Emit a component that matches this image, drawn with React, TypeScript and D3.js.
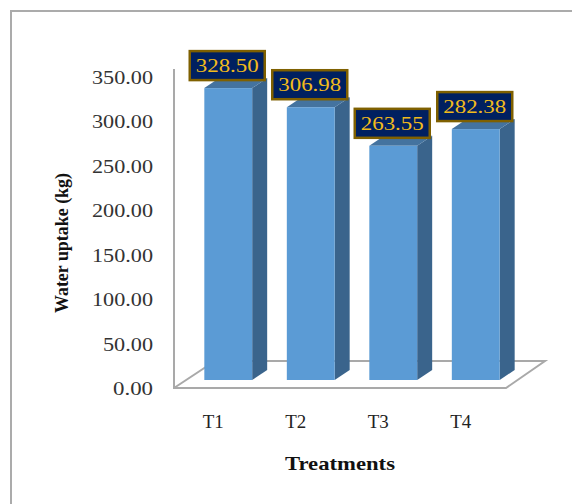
import React from "react";
import * as d3 from "d3";

const categories = ["T1", "T2", "T3", "T4"];
const values = [328.5, 306.98, 263.55, 282.38];
const ticks = [0, 50, 100, 150, 200, 250, 300, 350];
const yTitle = "Water uptake (kg)";
const xTitle = "Treatments";

const W = 572, H = 504;
const font = "'Liberation Serif', 'Times New Roman', serif";
const y = d3.scaleLinear().domain([0, 350]).range([380, 69]);
const x = d3.scaleBand().domain(categories).range([187, 517]).paddingInner(0.42).paddingOuter(0.21);
const depthX = 15, depthY = 10;
const front = 8;
const line = d3.line();
const stretch = "spacingAndGlyphs";

export default function App() {
  const bw = x.bandwidth();
  return (
    <svg width={W} height={H} viewBox={`0 0 ${W} ${H}`} style={{ position: "absolute", left: 0, top: 0, background: "#fff" }}>
      <path d={line([[11, 504], [11, 11], [572, 11]])!} fill="none" stroke="#ababab" strokeWidth={2} />
      <g fill="none" stroke="#a9a9a9" strokeWidth={2}>
        <path d={line([[174, y(350)], [174, y(0) + front], [506, y(0) + front], [545, y(0) - 19], [215, y(0) - 19], [174, y(0) + front]])!} />
      </g>
      {ticks.map((t) => (
        <text key={t} x={153} y={y(t) + front + 7} textAnchor="end" fontFamily={font} fontSize={19} textLength={t < 100 ? (t === 0 ? 40 : 50) : 61} lengthAdjust={stretch} fill="#333">
          {t.toFixed(2)}
        </text>
      ))}
      {categories.map((c, i) => {
        const x0 = x(c)!, x1 = x0 + bw, top = y(values[i]), base = y(0);
        return (
          <g key={c}>
            <path d={line([[x1, top], [x1 + depthX, top - depthY], [x1 + depthX, base - depthY], [x1, base]])! + "Z"} fill="#3a648c" />
            <path d={line([[x0, top], [x0 + depthX, top - depthY], [x1 + depthX, top - depthY], [x1, top]])! + "Z"} fill="#44739f" />
            <rect x={x0} y={top} width={bw} height={base - top} fill="#5b9bd5" />
          </g>
        );
      })}
      {categories.map((c, i) => {
        const cx = x(c)! + bw / 2 - 1, cy = y(values[i]) - 22.5;
        return (
          <g key={c}>
            <rect x={cx - 37.5} y={cy - 14.5} width={75} height={29} fill="#002060" stroke="#7f6000" strokeWidth={2.5} />
            <text x={cx} y={cy + 6.5} textAnchor="middle" fontFamily={font} fontSize={19} textLength={63} lengthAdjust={stretch} fill="#f2bb1c">
              {values[i].toFixed(2)}
            </text>
          </g>
        );
      })}
      {categories.map((c) => (
        <text key={c} x={x(c)! + bw / 2 - 15} y={428} textAnchor="middle" fontFamily={font} fontSize={19} textLength={21} lengthAdjust={stretch} fill="#222">
          {c}
        </text>
      ))}
      <text x={0} y={0} transform="translate(68,243) rotate(-90)" textAnchor="middle" fontFamily={font} fontWeight="bold" fontSize={19} textLength={140} lengthAdjust={stretch} fill="#111">
        {yTitle}
      </text>
      <text x={340} y={470} textAnchor="middle" fontFamily={font} fontWeight="bold" fontSize={19} textLength={110} lengthAdjust={stretch} fill="#111">
        {xTitle}
      </text>
    </svg>
  );
}
